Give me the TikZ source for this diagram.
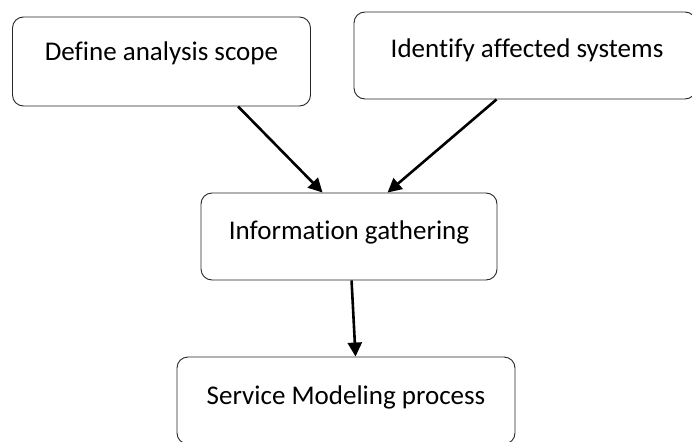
\documentclass[tikz,border=0pt]{standalone}
\usepackage{fontspec}
\setmainfont[Ligatures=NoCommon]{Carlito}
\usetikzlibrary{arrows.meta,calc}
\begin{document}
\begin{tikzpicture}[x=1pt,y=-1pt,
  stepbox/.style={draw=black!85, line width=0.9pt, rounded corners=11pt, inner sep=0pt},
  lbl/.style={font=\fontsize{27}{31}\selectfont, inner sep=0pt},
  arr/.style={line width=2.6pt, -{Triangle[length=14pt,width=14pt]}}]
\useasboundingbox (0,0) rectangle (692,441);
\begin{scope}
\clip (0,0) rectangle (692,441);
\node[stepbox, minimum width=298pt, minimum height=89pt] (a) at (161.5,61.5) {};
\node[lbl] (at) at (161.5,53) {Define analysis scope};
\node[stepbox, minimum width=342pt, minimum height=87pt] (b) at (525,55.5) {};
\node[lbl] (bt) at (527,50) {Identify affected systems};
\node[stepbox, minimum width=296pt, minimum height=87pt] (c) at (349,236.5) {};
\node[lbl] (ct) at (349,232) {Information gathering};
\node[stepbox, minimum width=338pt, minimum height=87pt] (d) at (346,400.5) {};
\node[lbl] (dt) at (346,397) {Service Modeling process};
\end{scope}
\draw[arr] ([xshift=226pt]a.south west) -- ([xshift=122pt]c.north west);
\draw[arr] ([xshift=143pt]b.south west) -- ([xshift=187pt]c.north west);
\draw[arr] ([xshift=151pt]c.south west) -- ([xshift=179pt]d.north west);
\end{tikzpicture}
\end{document}
